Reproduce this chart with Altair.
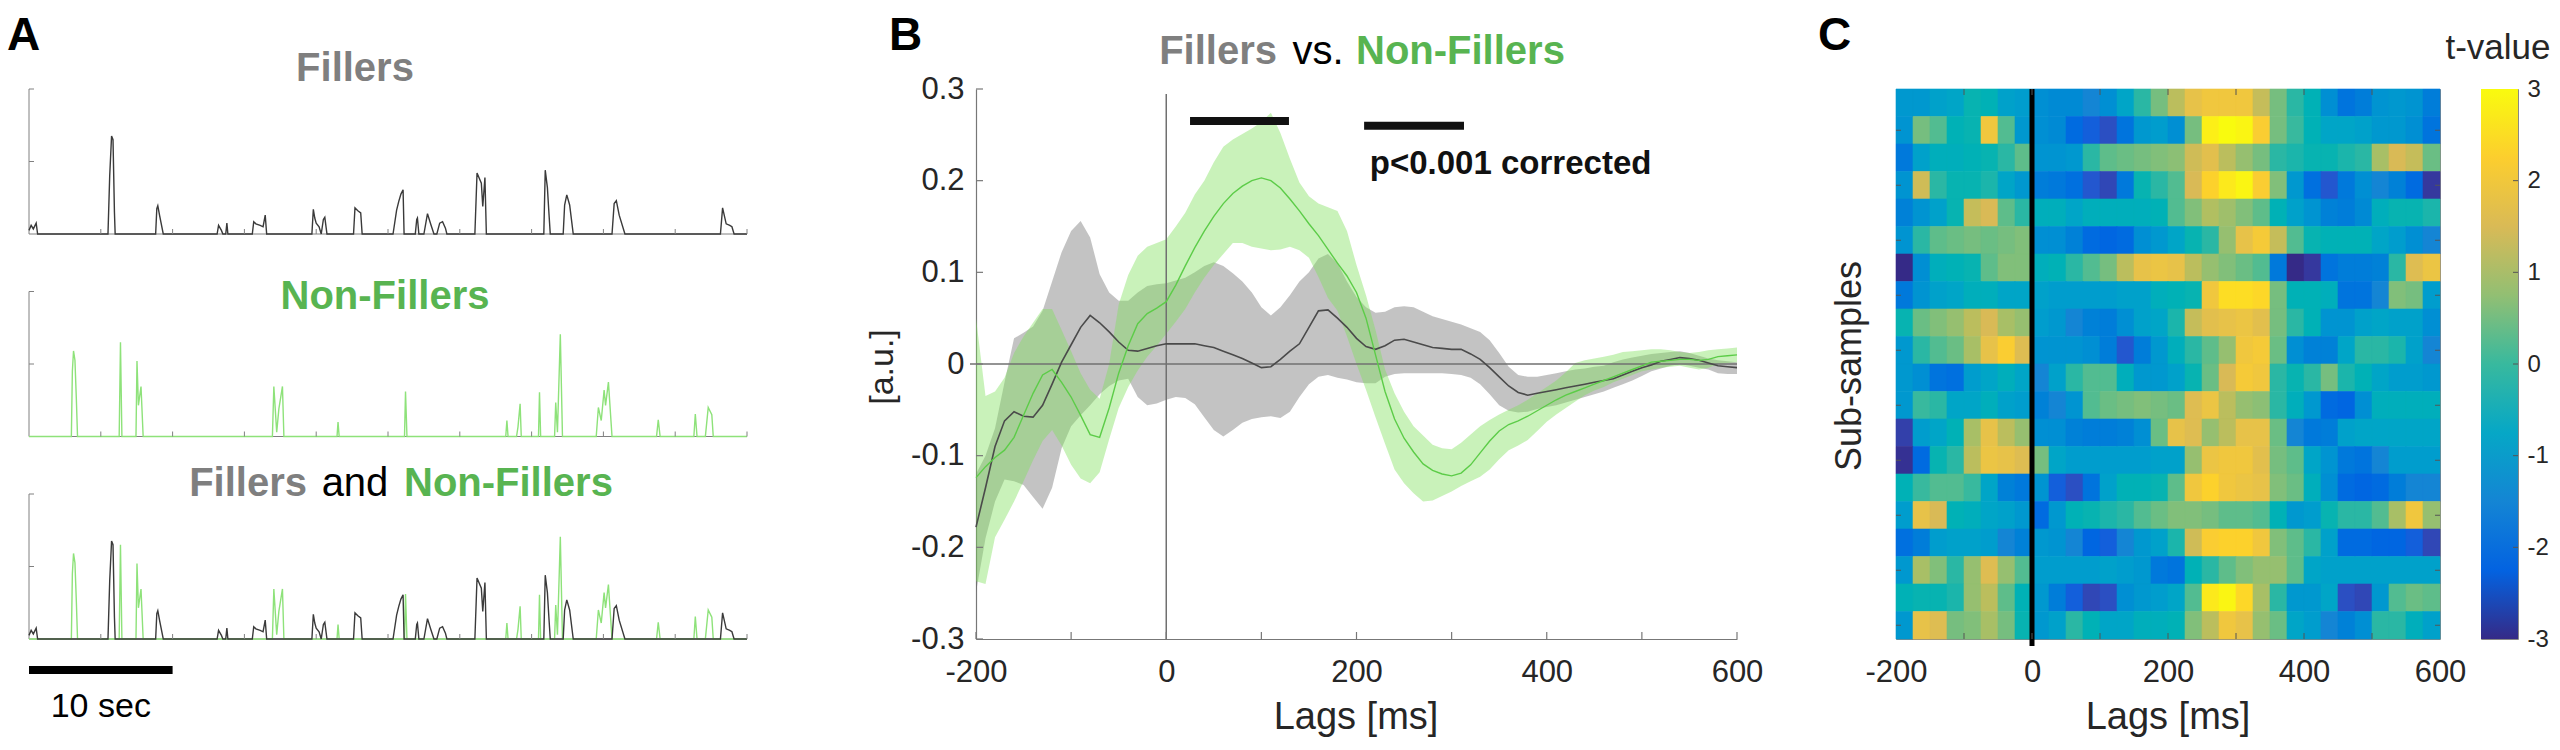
import altair as alt
import pandas as pd

FONT = "Liberation Sans"
GREY_T = "#7f7f7f"
GREEN_T = "#58b451"
F_LINE = "#3a3a3a"
NF_LINE = "#8ee27a"
AXC = "#808080"

# ---------------- Panel A data (time in s, envelope value) ----------------
FILLER_T = [0.0, 0.15, 0.3, 0.5, 0.6, 5.5, 5.62, 5.75, 5.85, 5.95, 6.0,
            8.82, 8.9, 8.97, 9.1, 9.35, 13.1, 13.2, 13.4, 13.5, 13.7, 13.78, 13.85,
            15.55, 15.65, 15.8, 16.1, 16.3, 16.45, 16.55,
            19.7, 19.8, 19.9, 20.0, 20.2, 20.35, 20.5, 20.6, 20.75,
            22.6, 22.7, 22.9, 23.1, 23.2, 25.35, 25.6, 25.75, 25.9, 26.05, 26.12,
            26.9, 27.0, 27.05, 27.15, 27.5, 27.75, 28.0, 28.2, 28.4, 28.6, 28.8, 29.0, 29.1,
            31.05, 31.2, 31.5, 31.6, 31.75, 31.85, 35.85, 35.95, 36.1, 36.2, 36.3,
            37.2, 37.3, 37.45, 37.65, 37.9, 40.6, 40.75, 40.9, 41.1, 41.5,
            48.15, 48.3, 48.55, 48.8, 48.95, 49.1, 50.0]
FILLER_V = [0.05, 0.12, 0.07, 0.15, 0.0, 0.0, 0.8, 1.35, 1.3, 0.3, 0.0,
            0.0, 0.35, 0.39, 0.25, 0.0, 0.0, 0.12, 0.05, 0.0, 0.0, 0.15, 0.0,
            0.0, 0.17, 0.14, 0.12, 0.1, 0.26, 0.0,
            0.0, 0.34, 0.22, 0.15, 0.1, 0.0, 0.2, 0.23, 0.0,
            0.0, 0.36, 0.32, 0.29, 0.0, 0.0, 0.33, 0.45, 0.55, 0.61, 0.0,
            0.0, 0.2, 0.22, 0.0, 0.0, 0.28, 0.12, 0.0, 0.0, 0.15, 0.17, 0.08, 0.0,
            0.0, 0.84, 0.7, 0.38, 0.78, 0.0, 0.0, 0.88, 0.64, 0.31, 0.0,
            0.0, 0.4, 0.54, 0.4, 0.0, 0.0, 0.42, 0.46, 0.26, 0.0,
            0.0, 0.36, 0.14, 0.12, 0.1, 0.0, 0.0]
NONFILLER_T = [0.0, 2.95, 3.02, 3.1, 3.2, 3.3, 3.38, 6.28, 6.37, 6.47,
               7.45, 7.52, 7.62, 7.8, 7.95, 16.95, 17.05, 17.25, 17.4, 17.65, 17.75,
               21.45, 21.52, 21.6, 26.15, 26.22, 26.32, 33.2, 33.28, 33.36,
               33.95, 34.05, 34.2, 34.28, 35.48, 35.55, 35.63,
               36.6, 36.68, 36.8, 37.0, 37.15, 39.5, 39.65, 39.85, 40.05, 40.15, 40.35, 40.6,
               43.7, 43.82, 43.95, 46.3, 46.4, 46.52, 47.1, 47.3, 47.55, 47.65, 50.0]
NONFILLER_V = [0.0, 0.0, 0.9, 1.18, 1.05, 0.5, 0.0, 0.0, 1.3, 0.0,
               0.0, 1.04, 0.43, 0.69, 0.0, 0.0, 0.69, 0.06, 0.38, 0.69, 0.0,
               0.0, 0.2, 0.0, 0.0, 0.62, 0.0, 0.0, 0.22, 0.0,
               0.0, 0.13, 0.45, 0.0, 0.0, 0.61, 0.0,
               0.0, 0.47, 0.06, 1.41, 0.0, 0.0, 0.4, 0.22, 0.64, 0.43, 0.75, 0.0,
               0.0, 0.23, 0.0, 0.0, 0.31, 0.0, 0.0, 0.4, 0.3, 0.0, 0.0]
A_XTICKS = [5, 10, 15, 20, 25, 30, 35, 40, 45, 50]
A_YTICKS = [1, 2]
A_XRANGE = [0, 50]
A_YRANGE = [0, 2]
SCALEBAR = [0, 10]

# ---------------- Panel B data (lag in ms) ----------------
LAGS = list(range(-200, 601, 10))
GREY_MEAN = [-0.178, -0.135, -0.090, -0.062, -0.052, -0.057, -0.058, -0.045, -0.022, 0.002,
             0.021, 0.040, 0.053, 0.045, 0.035, 0.024, 0.015, 0.014, 0.017, 0.020,
             0.022, 0.022, 0.022, 0.022, 0.020, 0.018, 0.014, 0.010, 0.006, 0.001,
             -0.004, -0.003, 0.005, 0.014, 0.022, 0.040, 0.058, 0.059, 0.050, 0.040,
             0.028, 0.019, 0.016, 0.020, 0.026, 0.027, 0.024, 0.021, 0.018, 0.017,
             0.016, 0.016, 0.011, 0.005, -0.004, -0.014, -0.024, -0.031, -0.034, -0.032,
             -0.030, -0.028, -0.026, -0.024, -0.022, -0.020, -0.018, -0.016, -0.012, -0.008,
             -0.004, -0.001, 0.003, 0.005, 0.007, 0.006, 0.004, 0.001, -0.002, -0.003,
             -0.004]
GREY_HI = [-0.120, -0.100, -0.070, -0.020, 0.028, 0.034, 0.041, 0.058, 0.090, 0.122,
           0.145, 0.156, 0.138, 0.098, 0.078, 0.069, 0.069, 0.078, 0.085, 0.087,
           0.088, 0.091, 0.094, 0.100, 0.107, 0.111, 0.107, 0.099, 0.090, 0.078,
           0.062, 0.053, 0.062, 0.075, 0.090, 0.100, 0.115, 0.120, 0.110, 0.090,
           0.073, 0.062, 0.056, 0.057, 0.062, 0.063, 0.062, 0.057, 0.052, 0.049,
           0.046, 0.043, 0.039, 0.035, 0.026, 0.012, -0.003, -0.012, -0.014, -0.014,
           -0.012, -0.010, -0.008, -0.006, -0.005, -0.003, -0.002, 0.002, 0.005, 0.007,
           0.009, 0.011, 0.012, 0.013, 0.014, 0.012, 0.009, 0.006, 0.004, 0.003,
           0.002]
GREY_LO = [-0.249, -0.190, -0.150, -0.126, -0.128, -0.132, -0.145, -0.158, -0.135, -0.092,
           -0.068, -0.056, -0.045, -0.033, -0.024, -0.018, -0.016, -0.036, -0.045, -0.043,
           -0.039, -0.036, -0.037, -0.044, -0.058, -0.072, -0.079, -0.072, -0.064, -0.060,
           -0.058, -0.057, -0.059, -0.052, -0.036, -0.022, -0.014, -0.012, -0.015, -0.017,
           -0.020, -0.021, -0.021, -0.014, -0.011, -0.010, -0.010, -0.010, -0.010, -0.010,
           -0.011, -0.012, -0.015, -0.022, -0.033, -0.045, -0.051, -0.053, -0.052, -0.049,
           -0.047, -0.045, -0.042, -0.039, -0.036, -0.033, -0.030, -0.026, -0.022, -0.018,
           -0.013, -0.008, -0.005, -0.002, 0.000, -0.002, -0.004, -0.006, -0.010, -0.011,
           -0.011]
GREEN_MEAN = [-0.124, -0.112, -0.102, -0.094, -0.080, -0.056, -0.032, -0.012, -0.006, -0.020,
              -0.036, -0.056, -0.077, -0.080, -0.048, -0.010, 0.020, 0.044, 0.055, 0.061,
              0.068, 0.086, 0.107, 0.127, 0.145, 0.161, 0.175, 0.186, 0.194, 0.200,
              0.203, 0.200, 0.192, 0.180, 0.167, 0.153, 0.140, 0.125, 0.110, 0.096,
              0.078, 0.050, 0.010, -0.030, -0.060, -0.081, -0.096, -0.109, -0.116, -0.120,
              -0.122, -0.119, -0.110, -0.097, -0.084, -0.073, -0.066, -0.062, -0.057, -0.051,
              -0.045, -0.039, -0.034, -0.030, -0.026, -0.022, -0.018, -0.014, -0.010, -0.006,
              -0.002, 0.002, 0.003, 0.004, 0.005, 0.005, 0.004, 0.005, 0.008, 0.009,
              0.010]
GREEN_HI = [0.050, -0.035, -0.030, -0.015, 0.012, 0.030, 0.045, 0.060, 0.060, 0.037,
            0.014, -0.010, -0.028, -0.038, 0.000, 0.065, 0.097, 0.118, 0.128, 0.132,
            0.136, 0.150, 0.165, 0.185, 0.200, 0.220, 0.237, 0.245, 0.251, 0.257,
            0.264, 0.274, 0.252, 0.224, 0.198, 0.183, 0.175, 0.171, 0.167, 0.145,
            0.108, 0.075, 0.037, -0.006, -0.032, -0.052, -0.068, -0.078, -0.088, -0.092,
            -0.093, -0.086, -0.077, -0.068, -0.061, -0.055, -0.050, -0.045, -0.039, -0.032,
            -0.025, -0.018, -0.009, 0.001, 0.004, 0.006, 0.008, 0.010, 0.013, 0.014,
            0.015, 0.016, 0.016, 0.015, 0.013, 0.012, 0.013, 0.015, 0.016, 0.017,
            0.018]
GREEN_LO = [-0.237, -0.240, -0.189, -0.170, -0.150, -0.128, -0.105, -0.084, -0.072, -0.089,
            -0.110, -0.125, -0.130, -0.118, -0.082, -0.048, -0.025, -0.007, 0.008, 0.020,
            0.033, 0.046, 0.060, 0.078, 0.094, 0.108, 0.120, 0.132, 0.132, 0.128,
            0.126, 0.124, 0.125, 0.128, 0.124, 0.116, 0.095, 0.072, 0.058, 0.030,
            0.000, -0.028, -0.058, -0.087, -0.115, -0.130, -0.141, -0.150, -0.149, -0.144,
            -0.139, -0.133, -0.128, -0.123, -0.115, -0.104, -0.094, -0.089, -0.083, -0.073,
            -0.063, -0.055, -0.048, -0.041, -0.034, -0.029, -0.025, -0.020, -0.016, -0.012,
            -0.008, -0.006, -0.004, -0.003, -0.002, -0.004, -0.006, -0.004, 0.000, 0.001,
            0.002]
SIG_START = [25, 208]
SIG_END = [129, 313]
SIG_Y = [0.265, 0.260]
B_XTICKS = [-200, -100, 0, 100, 200, 300, 400, 500, 600]
B_XLABELS = [-200, 0, 200, 400, 600]
B_YTICKS = [-0.3, -0.2, -0.1, 0.0, 0.1, 0.2, 0.3]

# ---------------- Panel C data (t-values, 20 sub-samples x 25 ms bins) ----------------
HEAT_LAG0 = list(range(-200, 600, 25))
HEAT = [
    [-1.1, -1.1, -0.9, -0.8, -0.3, -0.4, -0.9, -1.0, -1.3, -1.4, -1.4, -1.5, -1.3, -0.8, -0.1, 0.5,
     1.2, 1.8, 2.0, 2.0, 2.0, 1.3, 0.5, -0.1, -0.4, -1.3, -1.9, -1.7, -1.2, -1.1, -1.2, -1.7],
    [-1.2, 0.5, 0.2, -0.4, -0.3, 2.0, 0.2, -1.1, -1.3, -1.4, -2.1, -2.3, -2.5, -1.9, -1.1, -1.0,
     -1.3, 0.5, 2.8, 3.0, 2.9, 2.2, 0.5, 0.0, -0.4, -0.8, -0.8, -0.9, -1.1, -1.1, -1.3, -1.9],
    [-1.8, -0.9, -0.5, -0.5, -0.4, -0.3, -0.1, 0.3, -1.2, -1.2, -1.1, -0.1, 0.3, 0.4, 0.5, 0.6,
     0.7, 1.4, 1.7, 1.2, 0.8, 0.5, -0.1, -0.2, -0.3, -0.3, -0.2, -0.1, 1.0, 1.5, 1.3, 0.4],
    [-1.2, 1.4, -0.1, -0.3, -0.3, -0.2, -0.8, -1.1, -1.7, -1.8, -2.0, -2.4, -2.6, -1.8, -0.3, -0.1,
     0.2, 1.5, 2.3, 2.7, 2.9, 2.2, 0.6, -1.1, -2.0, -2.4, -1.8, -1.3, -1.5, -1.6, -2.1, -2.8],
    [-1.6, -1.2, -0.9, -0.3, 1.3, 1.5, 0.3, -0.1, -0.5, -0.5, -0.8, -0.5, -0.5, -0.5, -0.5, -0.4,
     0.2, 0.6, 1.1, 0.9, 0.6, 0.3, -0.4, -0.9, -1.2, -1.6, -1.7, -1.4, -0.5, -0.3, -0.3, -0.2],
    [-1.2, -0.1, 0.3, 0.4, 0.5, 0.4, 0.5, 0.6, -1.3, -1.3, -1.6, -2.1, -2.2, -2.1, -1.3, -1.1,
     -0.8, -0.3, -0.1, 0.8, 1.8, 2.1, 1.3, 0.2, -0.3, -0.4, -0.4, -0.4, -0.8, -1.0, -1.3, -1.5],
    [-3.0, -1.3, -0.5, -0.4, -0.3, 0.3, 0.6, 0.6, -0.5, -0.4, -0.1, 0.2, 0.5, 1.2, 1.8, 1.9,
     1.8, 1.2, 0.8, 0.6, 0.4, 0.2, -1.8, -3.0, -2.8, -1.9, -1.7, -1.7, -1.6, -0.1, 1.6, 1.9],
    [-1.8, -1.2, -0.9, -0.8, -0.5, -0.5, -0.8, -0.8, -0.9, -1.0, -1.0, -1.0, -1.0, -0.9, -0.9, -0.5,
     -0.4, -0.3, 2.0, 2.5, 2.5, 2.4, 0.5, -0.4, -0.4, -0.5, -1.9, -1.9, -1.5, 0.6, 0.5, -1.0],
    [-0.3, 0.4, 0.6, 0.8, 1.2, 1.5, 1.0, 0.8, -1.0, -1.1, -1.5, -1.6, -1.7, -1.3, -0.9, -0.8,
     -0.2, 1.3, 1.7, 1.8, 1.9, 1.7, 0.5, -0.1, -0.4, -1.2, -1.2, -0.9, -0.8, -0.9, -0.9, -1.3],
    [-1.1, -0.1, 0.2, 0.4, 1.0, 1.8, 2.2, 1.6, -1.2, -1.2, -1.2, -1.3, -1.7, -2.4, -1.7, -1.1,
     -0.5, -0.1, 0.3, 0.8, 2.0, 2.1, 0.4, -1.3, -1.6, -1.6, -0.8, -0.1, -0.1, -0.2, -0.9, -1.5],
    [-1.1, -1.3, -1.9, -2.0, -1.0, -0.8, -0.5, -0.8, -1.5, -0.9, -0.1, 0.2, 0.2, -0.5, -1.1, -1.1,
     -0.9, -0.3, 0.4, 1.5, 2.1, 2.0, -0.1, -0.3, -0.1, 0.5, -0.2, -0.4, -0.8, -1.0, -1.0, -1.1],
    [-1.1, 0.0, -0.1, -0.8, -0.8, -0.5, -0.9, -1.0, -1.6, -1.5, -1.2, 0.2, 0.4, 0.5, 0.6, 0.5,
     0.4, 1.6, 1.9, 1.2, 0.8, 0.7, -0.1, -0.5, -1.1, -2.1, -2.2, -1.3, -0.5, -0.5, -0.5, -0.5],
    [-2.7, -1.0, -0.8, -0.4, 1.0, 1.8, 1.2, 0.8, -1.3, -1.3, -1.6, -1.7, -1.7, -1.6, -1.3, 0.4,
     1.8, 1.6, 0.8, 1.2, 1.8, 1.8, 0.4, -1.5, -1.8, -1.7, -0.9, -0.8, -0.8, -0.8, -0.8, -0.8],
    [-2.9, -2.1, -0.3, -0.1, 1.2, 1.9, 1.8, 1.6, 0.5, -0.8, -1.0, -1.0, -1.0, -1.0, -1.0, -0.9,
     -0.9, 0.8, 1.9, 2.0, 2.0, 1.7, 0.5, 0.3, -0.8, -1.2, -1.8, -1.9, -1.5, -1.0, -1.0, -1.0],
    [-0.4, 0.0, 0.2, 0.2, 0.0, -0.8, -1.6, -1.8, -1.2, -2.3, -2.5, -1.9, -0.9, -0.4, -0.4, -0.3,
     0.3, 2.0, 2.3, 2.0, 1.9, 1.8, 0.6, 0.4, -0.5, -1.3, -2.1, -2.2, -2.1, -1.7, -1.5, -1.5],
    [-1.0, 1.8, 1.5, -0.4, -0.5, -0.8, -0.9, -1.1, -2.1, -1.1, -0.4, -0.3, -0.2, -0.1, 0.2, 0.4,
     0.6, 0.6, 0.5, 0.3, 0.3, 0.2, -0.4, -1.1, -1.0, -0.3, -0.1, -0.1, 0.2, 1.0, 2.0, 0.8],
    [-2.0, -1.7, -1.0, -0.9, -0.9, -1.0, -1.5, -1.6, -1.1, -1.2, -1.5, -2.2, -2.3, -1.5, -1.1, -0.9,
     -0.2, 1.4, 2.2, 2.3, 2.3, 2.0, 0.6, 0.3, -0.1, -0.9, -2.1, -2.1, -2.2, -2.2, -2.3, -2.6],
    [-1.1, 1.0, 0.6, -0.1, 0.8, 1.6, 0.8, 0.2, -1.0, -1.0, -1.0, -1.0, -0.9, -1.0, -1.1, -1.8,
     -1.9, -0.4, -0.1, 0.3, 0.6, 0.8, 0.8, 0.3, -0.8, -0.9, -0.9, -0.9, -0.9, -0.9, -0.9, -0.9],
    [-0.4, -0.3, -0.3, -0.2, 0.8, 1.2, 0.3, -0.4, -1.1, -1.7, -2.3, -2.6, -2.5, -1.3, -1.1, -1.0,
     -0.8, 0.2, 2.7, 2.9, 2.4, 1.0, -0.1, -1.1, -1.1, -0.8, -2.5, -2.6, -1.1, 0.2, 0.4, 0.3],
    [-1.1, 1.8, 1.6, 0.5, 0.6, 1.0, 0.5, -0.3, -1.1, -0.9, -0.1, -0.4, -0.8, -0.8, -0.5, -0.5,
     -0.4, 0.6, 1.2, 2.0, 1.8, 0.8, 0.4, -0.8, -1.0, -1.5, -1.6, -1.3, -0.1, -0.1, -0.5, -0.9],
]
C_XTICKS = [-100, 0, 100, 200, 300, 400, 500]
C_YTICKS = [2, 4, 6, 8, 10, 12, 14, 16, 18, 20]
CB_TICKS = [-3, -2, -1, 0, 1, 2, 3]
PARULA = ["#352a87", "#0363e1", "#1485d4", "#06a7c6", "#38b99e",
          "#92bf73", "#d9ba56", "#fcce2e", "#f9fb0e"]

# ---------------- layout sizes (pixels) ----------------
AW, STRIP_H, STRIP_GAP = 718, 145, 57.5
AH = 3 * STRIP_H + 2 * STRIP_GAP          # 550
PX_PER_UNIT = STRIP_H / (A_YRANGE[1] - A_YRANGE[0])
A_YMAX = AH / PX_PER_UNIT
STRIP_OFF = [(AH - STRIP_H - k * (STRIP_H + STRIP_GAP)) / PX_PER_UNIT for k in range(3)]
STRIP_TOP = [k * (STRIP_H + STRIP_GAP) for k in range(3)]
TICK_UNITS = 5 / PX_PER_UNIT
BW, BH = 761, 550
CW, CH = 544, 550
DW = 37


def txt(s, x, y, size, color="#000000", weight="normal", align="center",
        baseline="alphabetic", angle=0, font=FONT):
    kw = dict(fontSize=size, font=font, fontWeight=weight, color=color,
              align=align, baseline=baseline)
    if angle:
        kw["angle"] = angle
    return alt.Chart(pd.DataFrame({"s": [s]})).mark_text(**kw).encode(
        x=alt.value(x), y=alt.value(y), text="s:N")


# ---------------- Panel A (three strips in one view) ----------------
xA = alt.Scale(domain=A_XRANGE, nice=False, zero=False)
yA = alt.Scale(domain=[0, A_YMAX], nice=False, zero=False)


def strip(k, series):
    off = STRIP_OFF[k]
    layers = []
    ax_df = pd.DataFrame({"v0": [A_YRANGE[0]], "v1": [A_YRANGE[1]],
                          "t0": [A_XRANGE[0]], "t1": [A_XRANGE[1]]})
    layers.append(alt.Chart(ax_df).transform_calculate(
        a=f"datum.v0 + {off}", b=f"datum.v1 + {off}").mark_rule(color=AXC, strokeWidth=1).encode(
        x=alt.value(0), y=alt.Y("a:Q", scale=yA, axis=None), y2="b:Q"))
    layers.append(alt.Chart(ax_df).transform_calculate(
        a=f"datum.v0 + {off}").mark_rule(color=AXC, strokeWidth=1).encode(
        x=alt.X("t0:Q", scale=xA, axis=None), x2="t1:Q", y=alt.Y("a:Q", scale=yA, axis=None)))
    for t, v, col in series:
        layers.append(alt.Chart(pd.DataFrame({"t": t, "v": v})).transform_calculate(
            yy=f"datum.v + {off}").mark_line(color=col, strokeWidth=1.4).encode(
            x=alt.X("t:Q", scale=xA, axis=None), y=alt.Y("yy:Q", scale=yA, axis=None)))
    layers.append(alt.Chart(pd.DataFrame({"t": A_XTICKS})).transform_calculate(
        a=f"{off}", b=f"{off + TICK_UNITS}").mark_rule(color=AXC, strokeWidth=1).encode(
        x=alt.X("t:Q", scale=xA, axis=None), y=alt.Y("a:Q", scale=yA, axis=None), y2="b:Q"))
    layers.append(alt.Chart(pd.DataFrame({"v": A_YTICKS})).transform_calculate(
        a=f"datum.v + {off}").mark_rule(color=AXC, strokeWidth=1).encode(
        y=alt.Y("a:Q", scale=yA, axis=None), x=alt.value(0), x2=alt.value(5)))
    return layers


bar_df = pd.DataFrame({"t0": [SCALEBAR[0]], "t1": [SCALEBAR[1]]})
scalebar = alt.Chart(bar_df).mark_rule(color="#000000", strokeWidth=8).encode(
    x=alt.X("t0:Q", scale=xA, axis=None), x2="t1:Q", y=alt.value(STRIP_TOP[2] + 176))
sec_lbl = alt.Chart(pd.DataFrame({"t": [(SCALEBAR[0] + SCALEBAR[1]) / 2], "s": ["10 sec"]})).mark_text(
    fontSize=34, font=FONT, color="#000000", align="center", baseline="alphabetic").encode(
    x=alt.X("t:Q", scale=xA, axis=None), y=alt.value(STRIP_TOP[2] + 223), text="s:N")

panelA = alt.layer(
    *strip(0, [(FILLER_T, FILLER_V, F_LINE)]),
    *strip(1, [(NONFILLER_T, NONFILLER_V, NF_LINE)]),
    *strip(2, [(NONFILLER_T, NONFILLER_V, NF_LINE), (FILLER_T, FILLER_V, F_LINE)]),
    txt("Fillers", 326, STRIP_TOP[0] - 8, 40, GREY_T, "bold"),
    txt("Non-Fillers", 356, STRIP_TOP[1] + 17, 40, GREEN_T, "bold"),
    txt("Fillers", 278, STRIP_TOP[2] + 2, 40, GREY_T, "bold", "right"),
    txt("and", 326, STRIP_TOP[2] + 2, 40, "#000000", "normal", "center"),
    txt("Non-Fillers", 375, STRIP_TOP[2] + 2, 40, GREEN_T, "bold", "left"),
    txt("A", -22, -75, 46, "#000000", "bold", "left", "top"),
    scalebar, sec_lbl,
).properties(width=AW, height=AH)

# ---------------- Panel B ----------------
xB = alt.Scale(domain=[-200, 600], nice=False, zero=False)
yB = alt.Scale(domain=[-0.3, 0.3], nice=False, zero=False)
intExpr = "datum.value < 0 ? '-' + format(-datum.value, 'd') : format(datum.value, 'd')"
decExpr = ("abs(datum.value) < 1e-9 ? '0' : (datum.value < 0 ? '-' + format(-datum.value, '.1f')"
           " : format(datum.value, '.1f'))")
axBx = alt.Axis(title=None, values=B_XLABELS, ticks=False, tickSize=0, grid=False,
                labelFontSize=31, labelFont=FONT, labelColor="#262626", labelPadding=18,
                labelFlush=False, labelOverlap=False, labelBound=False,
                domainColor="#777777", domainWidth=1.2, labelExpr=intExpr)
axBy = alt.Axis(title=None, values=B_YTICKS, ticks=False, tickSize=0, grid=False,
                labelFontSize=31, labelFont=FONT, labelColor="#262626", labelPadding=12,
                labelFlush=False, labelOverlap=False, labelBound=False,
                domainColor="#777777", domainWidth=1.2, labelExpr=decExpr)

dfB = pd.DataFrame({"lag": LAGS, "gm": GREY_MEAN, "gh": GREY_HI, "gl": GREY_LO,
                    "nm": GREEN_MEAN, "nh": GREEN_HI, "nl": GREEN_LO})
XB = alt.X("lag:Q", scale=xB, axis=axBx)

green_band = alt.Chart(dfB).mark_area(color="#7ee05a", opacity=0.42).encode(
    x=XB, y=alt.Y("nl:Q", scale=yB, axis=axBy), y2="nh:Q")
grey_band = alt.Chart(dfB).mark_area(color="#6a6a6a", opacity=0.40).encode(
    x=XB, y=alt.Y("gl:Q", scale=yB, axis=axBy), y2="gh:Q")
hzero = alt.Chart(pd.DataFrame({"v": [0.0]})).mark_rule(color="#707070", strokeWidth=1.5).encode(
    y=alt.Y("v:Q", scale=yB, axis=axBy), x=alt.value(-6), x2=alt.value(BW))
vzero = alt.Chart(pd.DataFrame({"lag": [0]})).mark_rule(color="#707070", strokeWidth=1.5).encode(
    x=XB, y=alt.value(5), y2=alt.value(BH))
grey_line = alt.Chart(dfB).mark_line(color="#4a4a4a", strokeWidth=1.6).encode(
    x=XB, y=alt.Y("gm:Q", scale=yB, axis=axBy))
green_line = alt.Chart(dfB).mark_line(color="#5ccc48", strokeWidth=1.4).encode(
    x=XB, y=alt.Y("nm:Q", scale=yB, axis=axBy))
bxt = alt.Chart(pd.DataFrame({"lag": B_XTICKS})).mark_rule(color="#777777", strokeWidth=1.2).encode(
    x=XB, y=alt.value(BH), y2=alt.value(BH - 7))
byt = alt.Chart(pd.DataFrame({"v": B_YTICKS})).mark_rule(color="#777777", strokeWidth=1.2).encode(
    y=alt.Y("v:Q", scale=yB, axis=axBy), x=alt.value(0), x2=alt.value(7))
sig = alt.Chart(pd.DataFrame({"s": SIG_START, "e": SIG_END, "y": SIG_Y})).mark_rule(
    color="#111111", strokeWidth=8).encode(
    x=alt.X("s:Q", scale=xB, axis=axBx), x2="e:Q", y=alt.Y("y:Q", scale=yB, axis=axBy))
ptxt = alt.Chart(pd.DataFrame({"lag": [214], "v": [0.207], "s": ["p<0.001 corrected"]})).mark_text(
    fontSize=33, font=FONT, fontWeight="bold", color="#111111", align="left",
    baseline="alphabetic").encode(x=XB, y=alt.Y("v:Q", scale=yB, axis=axBy), text="s:N")

panelB = alt.layer(
    grey_band, green_band, hzero, vzero, grey_line, green_line, bxt, byt, sig, ptxt,
    txt("Fillers", 301, -25, 40, GREY_T, "bold", "right"),
    txt("vs.", 342, -25, 40, "#000000", "normal", "center"),
    txt("Non-Fillers", 380, -25, 40, GREEN_T, "bold", "left"),
    txt("B", -87, -75, 46, "#000000", "bold", "left", "top"),
    txt("[a.u.]", -93, 278, 34, "#262626", "normal", "center", "middle", 270),
    txt("Lags [ms]", 380, 640, 38, "#262626"),
).properties(width=BW, height=BH)

# ---------------- Panel C ----------------
rows = []
for r, vals in enumerate(HEAT):
    for c, val in enumerate(vals):
        rows.append({"l0": HEAT_LAG0[c], "l1": HEAT_LAG0[c] + 25,
                     "r0": r + 0.5, "r1": r + 1.5, "t": val})
dfC = pd.DataFrame(rows)
xC = alt.Scale(domain=[-200, 600], nice=False, zero=False)
yC = alt.Scale(domain=[0.5, 20.5], nice=False, zero=False, reverse=True)
cscale = alt.Scale(domain=[-3, -2.25, -1.5, -0.75, 0, 0.75, 1.5, 2.25, 3], range=PARULA, clamp=True)
axCx = alt.Axis(title=None, values=B_XLABELS, ticks=False, tickSize=0, grid=False, domain=False,
                labelFontSize=31, labelFont=FONT, labelColor="#262626", labelPadding=18,
                labelFlush=False, labelOverlap=False, labelBound=False, labelExpr=intExpr)
axCy = alt.Axis(title=None, labels=False, ticks=False, grid=False, domain=False)
XC = alt.X("l0:Q", scale=xC, axis=axCx)

heat = alt.Chart(dfC).mark_rect(strokeWidth=0.6).encode(
    x=XC, x2="l1:Q", y=alt.Y("r0:Q", scale=yC, axis=axCy), y2="r1:Q",
    color=alt.Color("t:Q", scale=cscale, legend=None),
    stroke=alt.Stroke("t:Q", scale=cscale, legend=None))
czero = alt.Chart(pd.DataFrame({"l0": [0]})).mark_rule(color="#000000", strokeWidth=5).encode(
    x=XC, y=alt.value(0), y2=alt.value(CH + 7))
cxb = alt.Chart(pd.DataFrame({"l0": C_XTICKS})).mark_rule(color="#555555", strokeWidth=1).encode(
    x=XC, y=alt.value(CH), y2=alt.value(CH - 6))
cxt = alt.Chart(pd.DataFrame({"l0": C_XTICKS})).mark_rule(color="#555555", strokeWidth=1).encode(
    x=XC, y=alt.value(0), y2=alt.value(6))
cyl = alt.Chart(pd.DataFrame({"r0": C_YTICKS})).mark_rule(color="#555555", strokeWidth=1).encode(
    y=alt.Y("r0:Q", scale=yC, axis=axCy), x=alt.value(0), x2=alt.value(5))
cyr = alt.Chart(pd.DataFrame({"r0": C_YTICKS})).mark_rule(color="#555555", strokeWidth=1).encode(
    y=alt.Y("r0:Q", scale=yC, axis=axCy), x=alt.value(CW - 5), x2=alt.value(CW))

panelC = alt.layer(
    heat, czero, cxb, cxt, cyl, cyr,
    txt("C", -78, -75, 46, "#000000", "bold", "left", "top"),
    txt("Sub-samples", -46, 277, 36, "#262626", "normal", "center", "middle", 270),
    txt("Lags [ms]", 272, 640, 38, "#262626"),
).properties(width=CW, height=CH, view=alt.ViewBackground(stroke="#888888", strokeWidth=1))

# ---------------- Colorbar ----------------
grad = alt.LinearGradient(
    gradient="linear",
    stops=[alt.GradientStop(color=col, offset=i / (len(PARULA) - 1)) for i, col in enumerate(PARULA)],
    x1=0, x2=0, y1=1, y2=0)
yD = alt.Scale(domain=[CB_TICKS[0], CB_TICKS[-1]], nice=False, zero=False)
axD = alt.Axis(title=None, orient="right", values=CB_TICKS, ticks=False, tickSize=0, grid=False,
               domain=False, labelFontSize=24, labelFont=FONT, labelColor="#262626",
               labelPadding=9, labelFlush=False, labelOverlap=False, labelBound=False,
               labelExpr=intExpr)
cbar = alt.Chart(pd.DataFrame({"lo": [CB_TICKS[0]], "hi": [CB_TICKS[-1]]})).mark_rect(color=grad).encode(
    y=alt.Y("lo:Q", scale=yD, axis=axD), y2="hi:Q", x=alt.value(0), x2=alt.value(DW))
cbt = alt.Chart(pd.DataFrame({"lo": CB_TICKS[1:-1]})).mark_rule(color="#555555", strokeWidth=1).encode(
    y=alt.Y("lo:Q", scale=yD, axis=axD), x=alt.value(DW - 5), x2=alt.value(DW))
panelD = alt.layer(
    cbar, cbt,
    txt("t-value", 17, -30, 35, "#262626"),
).properties(width=DW, height=CH, view=alt.ViewBackground(stroke="#888888", strokeWidth=1))

right = alt.hconcat(panelC, panelD, spacing=41, bounds="flush")
mid = alt.hconcat(panelB, right, spacing=159, bounds="flush")
chart = alt.hconcat(panelA, mid, spacing=229, bounds="flush").properties(
    padding={"left": 7, "top": 12, "right": 5, "bottom": 5},
    background="white",
).configure_view(stroke=None)

chart.save("out.html", embed_options={"renderer": "svg", "actions": False})
